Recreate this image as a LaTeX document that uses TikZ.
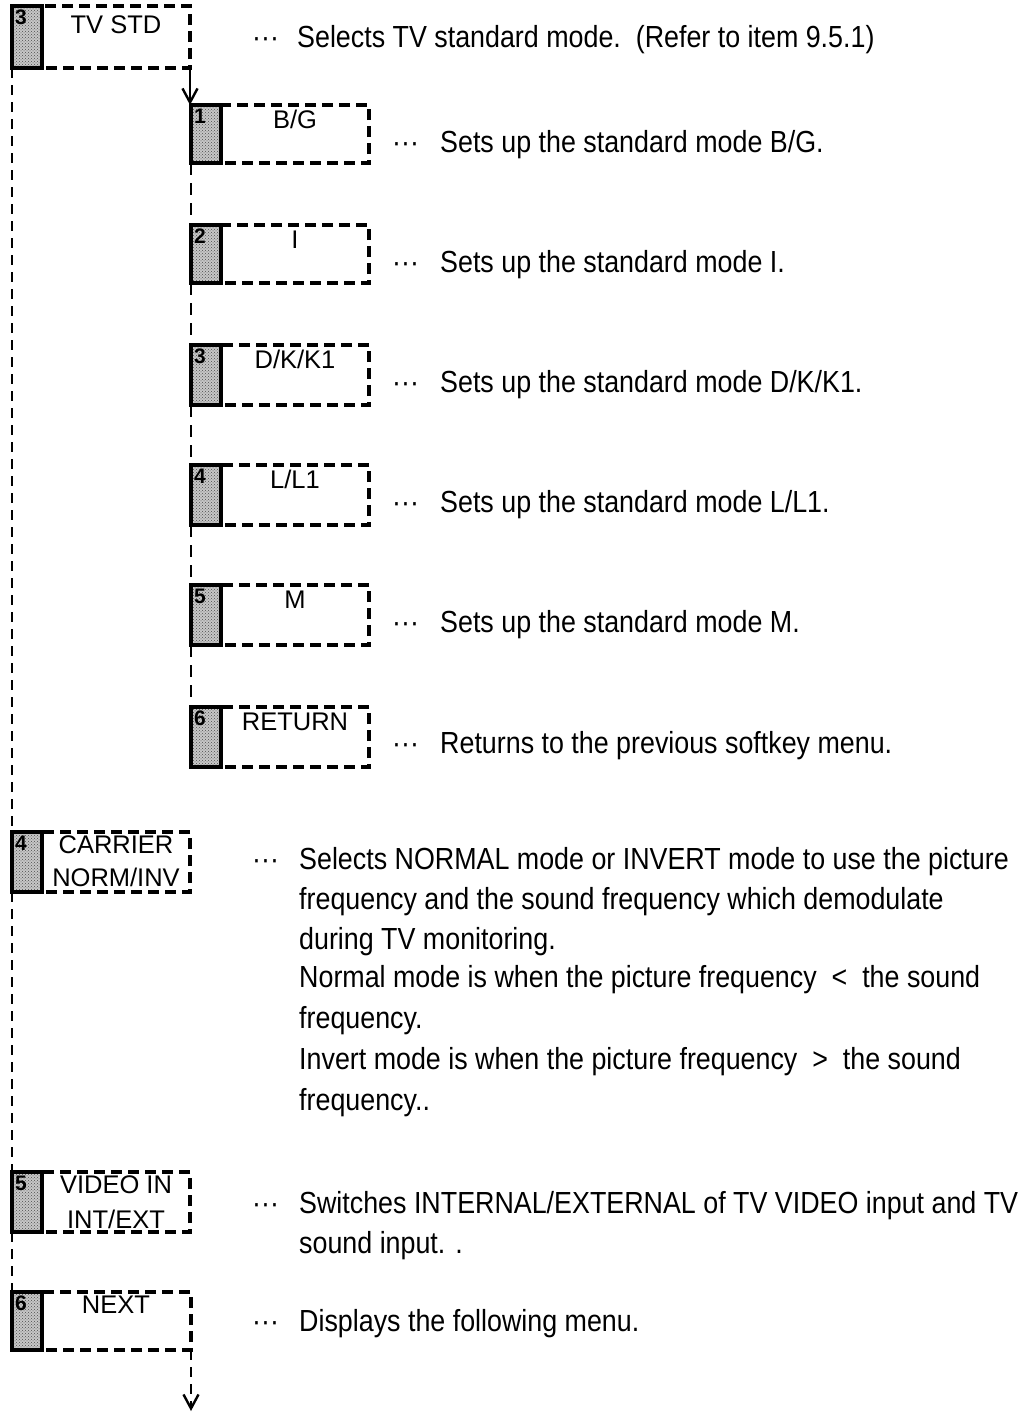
\documentclass[tikz,border=0pt]{standalone}
\usepackage{fontspec}
\setmainfont{Liberation Sans}
\newfontfamily\bodyf[FakeStretch=0.88]{Liberation Sans}
\usetikzlibrary{arrows.meta,calc,patterns}
\newcommand\skbox[6]{%
  \node[dbox, minimum width=#4pt, minimum height=#5pt] (#1) at (#2,#3) {};
  \node[keybox, minimum height=#5pt] (#1k) at (#2,#3) {};
  \node[keynum] at ($(#1k.north west)+(3,4)$) {#6};
}
\begin{document}
\begin{tikzpicture}[x=1pt,y=-1pt,
  dbox/.style={draw, dash pattern=on 11pt off 6pt, line width=3.4pt, inner sep=0pt, outer sep=0pt, anchor=north west},
  keybox/.style={draw, line width=3.6pt, preaction={fill=black!22}, pattern=crosshatch dots, pattern color=black!70, inner sep=0pt, outer sep=0pt, minimum width=30pt, anchor=north west},
  keynum/.style={font=\fontsize{21}{21}\selectfont\bfseries, inner sep=0pt, anchor=north west},
  lbl/.style={font=\fontsize{25.5}{30}\selectfont, inner sep=0pt, anchor=base},
  desc/.style={font=\bodyf\fontsize{30.5}{40.5}\selectfont, inner sep=0pt, anchor=base west},
  mainline/.style={line width=2.2pt, dash pattern=on 10pt off 7pt},
  subline/.style={line width=1.8pt, dash pattern=on 12pt off 8pt},
  tip/.style={-{Straight Barb[length=14pt,width=15pt,line width=2.4pt]}}
]
\useasboundingbox (0,0) rectangle (1028,1416);

% main level boxes
\skbox{tv}{12}{6}{178}{62}{3}
\skbox{car}{12}{832}{178}{60}{4}
\skbox{vid}{12}{1172}{178}{60}{5}
\skbox{nxt}{12}{1292}{179}{58}{6}

% sub level boxes
\skbox{bg}{191}{105}{178}{58}{1}
\skbox{ii}{191}{225}{178}{58}{2}
\skbox{dk}{191}{345}{178}{60}{3}
\skbox{ll}{191}{465}{178}{60}{4}
\skbox{mm}{191}{585}{178}{60}{5}
\skbox{ret}{191}{707}{178}{60}{6}

% box labels
\node[lbl] (ltv) at (116,33) {TV STD};
\node[lbl] (lbg) at (295,128) {B/G};
\node[lbl] (lii) at (295,248) {I};
\node[lbl] (ldk) at (295,368) {D/K/K1};
\node[lbl] (lll) at (295,488) {L/L1};
\node[lbl] (lmm) at (295,608) {M};
\node[lbl] (lret) at (295,730) {RETURN};
\node[lbl] (lcar1) at (116,853) {CARRIER};
\node[lbl] (lcar2) at (116,886) {NORM/INV};
\node[lbl] (lvid1) at (116,1193) {VIDEO IN};
\node[lbl] (lvid2) at (116,1228) {INT/EXT};
\node[lbl] (lnxt) at (116,1313) {NEXT};

% descriptions
\node[desc] (d0) at (252,47) {···};
\node[desc] (t0) at (297,47) {Selects TV standard mode.\ \ (Refer to item 9.5.1)};

\node[desc] (d1) at (392,152) {···};
\node[desc] (t1) at (440,152) {Sets up the standard mode B/G.};
\node[desc] (d2) at (392,272) {···};
\node[desc] (t2) at (440,272) {Sets up the standard mode I.};
\node[desc] (d3) at (392,392) {···};
\node[desc] (t3) at (440,392) {Sets up the standard mode D/K/K1.};
\node[desc] (d4) at (392,512) {···};
\node[desc] (t4) at (440,512) {Sets up the standard mode L/L1.};
\node[desc] (d5) at (392,632) {···};
\node[desc] (t5) at (440,632) {Sets up the standard mode M.};
\node[desc] (d6) at (392,753) {···};
\node[desc] (t6) at (440,753) {Returns to the previous softkey menu.};

\node[desc] (d7) at (252,869) {···};
\node[desc] (t7a) at (299,869) {Selects NORMAL mode or INVERT mode to use the picture};
\node[desc] (t7b) at (299,909) {frequency and the sound frequency which demodulate};
\node[desc] (t7c) at (299,949) {during TV monitoring.};
\node[desc] (t7d) at (299,987) {Normal mode is when the picture frequency \ < \ the sound};
\node[desc] (t7e) at (299,1028) {frequency.};
\node[desc] (t7f) at (299,1069) {Invert mode is when the picture frequency \ > \ the sound};
\node[desc] (t7g) at (299,1110) {frequency..};

\node[desc] (d8) at (252,1213) {···};
\node[desc] (t8a) at (299,1213) {Switches INTERNAL/EXTERNAL of TV VIDEO input and TV};
\node[desc] (t8b) at (299,1253) {sound input. .};

\node[desc] (d9) at (252,1331) {···};
\node[desc] (t9) at (299,1331) {Displays the following menu.};

% connectors
\draw[tip, line width=2pt] (tv.south east) -- (tv.south east |- bgk.north);
\draw[subline] (bgk.south west) -- (iik.north west);
\draw[subline] (iik.south west) -- (dkk.north west);
\draw[subline] (dkk.south west) -- (llk.north west);
\draw[subline] (llk.south west) -- (mmk.north west);
\draw[subline] (mmk.south west) -- (retk.north west);

\draw[mainline] (tvk.south west) -- (cark.north west);
\draw[mainline] (cark.south west) -- (vidk.north west);
\draw[mainline] (vidk.south west) -- (nxtk.north west);

\coordinate (endpt) at (191,1411);
\draw[mainline, line width=2.8pt, tip] (nxt.south east) -- (endpt);
\end{tikzpicture}
\end{document}
